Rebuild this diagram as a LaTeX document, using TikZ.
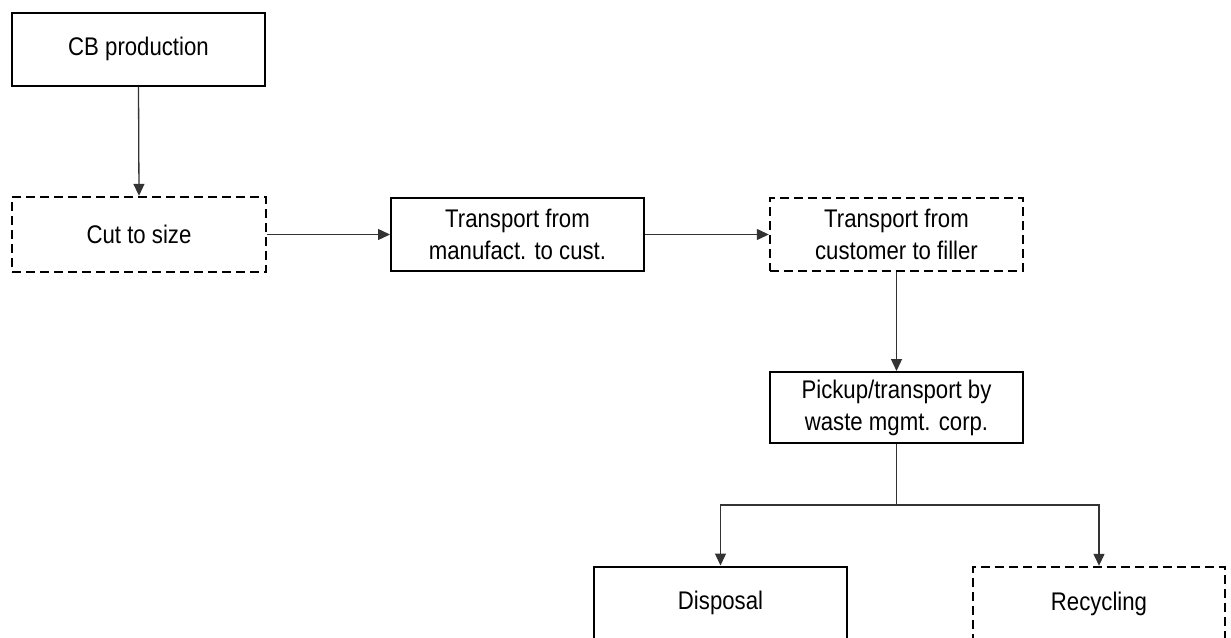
\documentclass[tikz,border=0pt]{standalone}
\usepackage{fontspec}
\setmainfont[FakeStretch=0.87]{Liberation Sans}
\usetikzlibrary{arrows.meta}
\tikzset{
  box/.style={draw=black, line width=2pt, minimum width=253pt, minimum height=73pt,
    align=center, inner sep=0pt, font=\fontsize{25.5}{32}\selectfont, fill=white},
  dbox/.style={box, line width=2.4pt, dash pattern=on 9pt off 5pt},
  conn/.style={draw=black!80, line width=1.3pt},
  arr/.style={conn, -{Triangle[length=12pt,width=11pt]}}
}
\begin{document}
\begin{tikzpicture}[x=1pt,y=-1pt]
\clip (0,0) rectangle (1231,637);
\fill[white] (0,0) rectangle (1231,637);
\node[box] (cb) at (138.5,49) {CB production};
\node[dbox, minimum height=75pt, minimum width=254pt] (cut) at (139,234.5) {Cut to size};
\node[box] (tm) at (517.5,234.5) {Transport from\\manufact. to cust.};
\node[dbox] (tc) at (896.5,234.5) {Transport from\\customer to filler};
\node[box, minimum height=71pt] (pk) at (896.5,407.5) {Pickup/transport by\\waste mgmt. corp.};
\node[box] (dis) at (720.5,603) {Disposal};
\node[dbox, minimum width=252pt] (rec) at (1099,603.5) {Recycling};
\coordinate (br) at (896.5,505);
\draw[arr] (cb.south) -- (cut.north);
\draw[arr] (cut.east) -- (tm.west);
\draw[arr] (tm.east) -- (tc.west);
\draw[arr] (tc.south) -- (pk.north);
\draw[conn] (pk.south) -- (br);
\draw[arr] (br) -| (dis.north);
\draw[arr] (br) -| (rec.north);
\end{tikzpicture}
\end{document}
